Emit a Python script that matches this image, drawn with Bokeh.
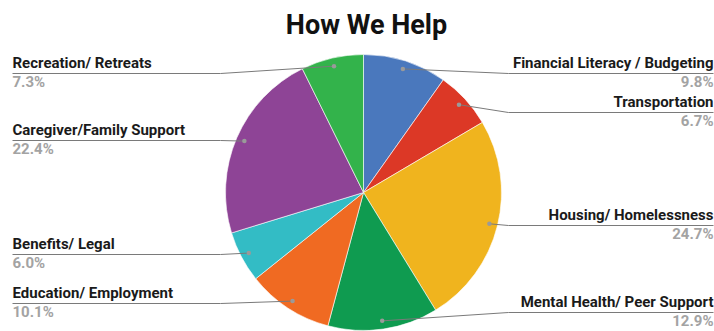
import math
from bokeh.plotting import figure
from bokeh.models import Range1d, ColumnDataSource
from bokeh.core.properties import value
from bokeh.embed import file_html
from bokeh.resources import INLINE

# ---- data ----
categories = ["Financial Literacy / Budgeting", "Transportation", "Housing/ Homelessness",
              "Mental Health/ Peer Support", "Education/ Employment", "Benefits/ Legal",
              "Caregiver/Family Support", "Recreation/ Retreats"]
values = [9.8, 6.7, 24.7, 12.9, 10.1, 6.0, 22.4, 7.3]
colors = ["#4a78bd", "#dc3826", "#f0b41e", "#0f9b50", "#f06a22", "#33bcc5", "#8e4496", "#33b34b"]
title = "How We Help"

# ---- layout (pixels, from top-left) ----
W, H = 714, 331
CX, CY, R = 363, 192, 138
sides = ["right", "right", "right", "right", "left", "left", "left", "left"]
label_line_y = [73, 112, 225, 312, 303, 254, 140, 73]
LEFT_X, RIGHT_X = 12, 713
LEFT_BEND, RIGHT_BEND = 220, 508
TEXT_SHIFT = 6  # renderer baseline correction (px)

def fy(py):
    return H - py

p = figure(width=W, height=H, x_range=Range1d(0, W), y_range=Range1d(0, H),
           output_backend="svg", toolbar_location=None, min_border=0,
           x_axis_location=None, y_axis_location=None, outline_line_color=None)
p.xgrid.visible = False
p.ygrid.visible = False
p.background_fill_color = "white"
p.border_fill_color = "white"

total = sum(values)
starts, ends, mids = [], [], []
cum = 0.0
for v in values:
    a0 = math.pi / 2 - 2 * math.pi * cum / total
    cum += v
    a1 = math.pi / 2 - 2 * math.pi * cum / total
    starts.append(a0)
    ends.append(a1)
    mids.append((a0 + a1) / 2)

src = ColumnDataSource(dict(start=starts, end=ends, color=colors))
p.wedge(x=CX, y=fy(CY), radius=R, start_angle="start", end_angle="end",
        direction="clock", fill_color="color", line_color="white", line_width=0.6,
        source=src)

# leader lines, dots, labels
dot_x, dot_y = [], []
for i, cat in enumerate(categories):
    m = mids[i]
    dx = CX + 0.94 * R * math.cos(m)
    dy = fy(CY) + 0.94 * R * math.sin(m)
    dot_x.append(dx)
    dot_y.append(dy)
    ly = fy(label_line_y[i])
    if sides[i] == "left":
        bx = min(LEFT_BEND, dx)
        xs = [LEFT_X, bx, dx]
        ys = [ly, ly, dy]
        tx, align = LEFT_X, "left"
    else:
        bx = max(RIGHT_BEND, dx)
        xs = [dx, bx, RIGHT_X]
        ys = [dy, ly, ly]
        tx, align = RIGHT_X, "right"
    p.line(xs, ys, line_color="#7a7a7a", line_width=1)
    p.text(x=[tx], y=[ly + 5 + TEXT_SHIFT], text=[cat], text_font=value("Roboto"),
           text_font_style="bold", text_font_size="15px", text_color="#1a1a1a",
           text_align=align, text_baseline="alphabetic")
    p.text(x=[tx], y=[ly - 14 + TEXT_SHIFT], text=[f"{values[i]:.1f}%"], text_font=value("Roboto"),
           text_font_style="bold", text_font_size="15px", text_color="#a3a3a3",
           text_align=align, text_baseline="alphabetic")

p.scatter(dot_x, dot_y, size=4.5, fill_color="#9a9a9a", line_color=None)

p.text(x=[W / 2 + 9], y=[fy(30) + TEXT_SHIFT], text=[title], text_font=value("Roboto"),
       text_font_style="bold", text_font_size="27px", text_color="#111111",
       text_align="center", text_baseline="alphabetic")

open("out.html", "w").write(file_html(p, INLINE))
